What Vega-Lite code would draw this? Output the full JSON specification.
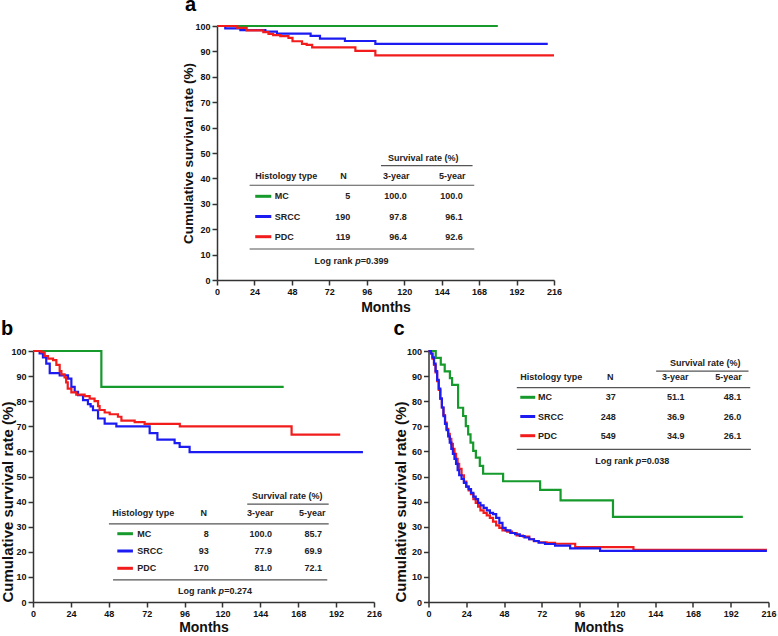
{
"$schema": "https://vega.github.io/schema/vega-lite/v6.json",
"padding": {"top": -6, "left": 0, "right": 0, "bottom": 0},
"background": "white",
"config": {
  "view": {"stroke": null},
  "font": "Liberation Sans",
  "axis": {"grid": false, "labelOverlap": false, "labelBound": false, "labelFlush": false, "tickCount": 30, "domainColor": "#333", "domainWidth": 1.5, "tickColor": "#333", "tickWidth": 1.5, "tickSize": 5, "labelFont": "Liberation Sans", "labelFontSize": 9, "labelFontWeight": "bold", "labelColor": "#111", "labelPadding": 2, "titleFont": "Liberation Sans", "titleFontWeight": "bold", "titleColor": "#111"},
  "title": {"font": "Liberation Sans", "fontSize": 20, "fontWeight": "bold", "anchor": "start", "frame": "bounds", "color": "#000", "offset": 4},
  "text": {"font": "Liberation Sans", "fontSize": 9, "fontWeight": "bold", "color": "#222", "baseline": "middle"},
  "rule": {"color": "#555", "strokeWidth": 1.2},
  "line": {"interpolate": "step-after", "strokeWidth": 2.2}
},
"datasets": {
  "curves": [
    {"p":"a","g":"MC","m":0,"s":100},{"p":"a","g":"MC","m":180,"s":100},
    {"p":"a","g":"SRCC","m":0,"s":100},{"p":"a","g":"SRCC","m":5.3,"s":99.1},{"p":"a","g":"SRCC","m":15,"s":98.4},{"p":"a","g":"SRCC","m":31,"s":97.8},{"p":"a","g":"SRCC","m":38.4,"s":97.0},{"p":"a","g":"SRCC","m":60,"s":96.1},{"p":"a","g":"SRCC","m":66,"s":95.0},{"p":"a","g":"SRCC","m":82,"s":94.1},{"p":"a","g":"SRCC","m":101.5,"s":93.0},{"p":"a","g":"SRCC","m":212,"s":93.0},
    {"p":"a","g":"PDC","m":0,"s":100},{"p":"a","g":"PDC","m":13,"s":99.3},{"p":"a","g":"PDC","m":19,"s":98.3},{"p":"a","g":"PDC","m":29.7,"s":97.6},{"p":"a","g":"PDC","m":33,"s":96.9},{"p":"a","g":"PDC","m":36,"s":96.4},{"p":"a","g":"PDC","m":40.6,"s":96.0},{"p":"a","g":"PDC","m":45.8,"s":95.3},{"p":"a","g":"PDC","m":48.4,"s":94.0},{"p":"a","g":"PDC","m":54.5,"s":93.0},{"p":"a","g":"PDC","m":57.5,"s":92.6},{"p":"a","g":"PDC","m":61,"s":91.6},{"p":"a","g":"PDC","m":88.7,"s":90.2},{"p":"a","g":"PDC","m":101.5,"s":88.4},{"p":"a","g":"PDC","m":216,"s":88.4},
    {"p":"b","g":"MC","m":0,"s":100},{"p":"b","g":"MC","m":43.3,"s":85.7},{"p":"b","g":"MC","m":158.8,"s":85.7},
    {"p":"b","g":"SRCC","m":0,"s":100},{"p":"b","g":"SRCC","m":4.2,"s":99},{"p":"b","g":"SRCC","m":6.3,"s":97.5},{"p":"b","g":"SRCC","m":8.4,"s":95},{"p":"b","g":"SRCC","m":10.6,"s":91.2},{"p":"b","g":"SRCC","m":16.9,"s":90.3},{"p":"b","g":"SRCC","m":22.2,"s":89.0},{"p":"b","g":"SRCC","m":24.3,"s":85.7},{"p":"b","g":"SRCC","m":26.4,"s":83.7},{"p":"b","g":"SRCC","m":28.5,"s":82.4},{"p":"b","g":"SRCC","m":31.7,"s":80.4},{"p":"b","g":"SRCC","m":34.8,"s":78.8},{"p":"b","g":"SRCC","m":36.5,"s":77.9},{"p":"b","g":"SRCC","m":38,"s":76.4},{"p":"b","g":"SRCC","m":41.2,"s":73.1},{"p":"b","g":"SRCC","m":45.4,"s":71.1},{"p":"b","g":"SRCC","m":52.8,"s":70.0},{"p":"b","g":"SRCC","m":73.9,"s":67.3},{"p":"b","g":"SRCC","m":78.8,"s":64.7},{"p":"b","g":"SRCC","m":89.7,"s":63.3},{"p":"b","g":"SRCC","m":92.9,"s":61.8},{"p":"b","g":"SRCC","m":99.2,"s":59.7},{"p":"b","g":"SRCC","m":209,"s":59.7},
    {"p":"b","g":"PDC","m":0,"s":100},{"p":"b","g":"PDC","m":5.3,"s":99.5},{"p":"b","g":"PDC","m":7.4,"s":98},{"p":"b","g":"PDC","m":9.5,"s":97},{"p":"b","g":"PDC","m":12.7,"s":96.4},{"p":"b","g":"PDC","m":14.8,"s":94.5},{"p":"b","g":"PDC","m":16.9,"s":92},{"p":"b","g":"PDC","m":18,"s":90.7},{"p":"b","g":"PDC","m":20,"s":89.5},{"p":"b","g":"PDC","m":21,"s":87.5},{"p":"b","g":"PDC","m":22,"s":85},{"p":"b","g":"PDC","m":24.3,"s":83.5},{"p":"b","g":"PDC","m":27.4,"s":82.6},{"p":"b","g":"PDC","m":32.7,"s":82.0},{"p":"b","g":"PDC","m":35.9,"s":81.0},{"p":"b","g":"PDC","m":39,"s":80},{"p":"b","g":"PDC","m":41.2,"s":78},{"p":"b","g":"PDC","m":42.2,"s":76.5},{"p":"b","g":"PDC","m":45.4,"s":75.5},{"p":"b","g":"PDC","m":48.6,"s":74.8},{"p":"b","g":"PDC","m":53.8,"s":73.8},{"p":"b","g":"PDC","m":56,"s":72.3},{"p":"b","g":"PDC","m":64.4,"s":71.7},{"p":"b","g":"PDC","m":70.7,"s":71.0},{"p":"b","g":"PDC","m":93,"s":70.0},{"p":"b","g":"PDC","m":163.8,"s":66.7},{"p":"b","g":"PDC","m":194.6,"s":66.7},
    {"p":"c","g":"MC","m":0,"s":100},{"p":"c","g":"MC","m":4.6,"s":97.3},{"p":"c","g":"MC","m":7.8,"s":94.6},{"p":"c","g":"MC","m":10.3,"s":91.9},{"p":"c","g":"MC","m":13.6,"s":89.2},{"p":"c","g":"MC","m":15,"s":86.5},{"p":"c","g":"MC","m":18.8,"s":77.4},{"p":"c","g":"MC","m":22.0,"s":74.1},{"p":"c","g":"MC","m":23.7,"s":70.1},{"p":"c","g":"MC","m":25.2,"s":66.8},{"p":"c","g":"MC","m":26.7,"s":63.5},{"p":"c","g":"MC","m":28.4,"s":60.2},{"p":"c","g":"MC","m":30.1,"s":57.5},{"p":"c","g":"MC","m":32.6,"s":54.2},{"p":"c","g":"MC","m":34.7,"s":51.1},{"p":"c","g":"MC","m":47.4,"s":48.1},{"p":"c","g":"MC","m":70.9,"s":44.7},{"p":"c","g":"MC","m":83.9,"s":40.5},{"p":"c","g":"MC","m":117.2,"s":33.9},{"p":"c","g":"MC","m":199.7,"s":33.9},
    {"p":"c","g":"PDC","m":0,"s":100},{"p":"c","g":"PDC","m":1.5,"s":99},{"p":"c","g":"PDC","m":2.5,"s":97},{"p":"c","g":"PDC","m":3.5,"s":94.5},{"p":"c","g":"PDC","m":4.5,"s":91.5},{"p":"c","g":"PDC","m":5.5,"s":88},{"p":"c","g":"PDC","m":6.5,"s":84.5},{"p":"c","g":"PDC","m":7.5,"s":81},{"p":"c","g":"PDC","m":8.5,"s":77.5},{"p":"c","g":"PDC","m":9.5,"s":74.5},{"p":"c","g":"PDC","m":10.5,"s":71.5},{"p":"c","g":"PDC","m":11.5,"s":69},{"p":"c","g":"PDC","m":12.5,"s":67},{"p":"c","g":"PDC","m":13.5,"s":65},{"p":"c","g":"PDC","m":14.5,"s":63},{"p":"c","g":"PDC","m":15.5,"s":61},{"p":"c","g":"PDC","m":16.5,"s":59},{"p":"c","g":"PDC","m":17.5,"s":57},{"p":"c","g":"PDC","m":18.5,"s":55},{"p":"c","g":"PDC","m":19.5,"s":53},{"p":"c","g":"PDC","m":21,"s":50.5},{"p":"c","g":"PDC","m":22.5,"s":48},{"p":"c","g":"PDC","m":24,"s":46},{"p":"c","g":"PDC","m":25.5,"s":44.5},{"p":"c","g":"PDC","m":27,"s":43},{"p":"c","g":"PDC","m":28.5,"s":41},{"p":"c","g":"PDC","m":30,"s":39.5},{"p":"c","g":"PDC","m":31.5,"s":38},{"p":"c","g":"PDC","m":33,"s":36.5},{"p":"c","g":"PDC","m":35,"s":35.5},{"p":"c","g":"PDC","m":37,"s":34.5},{"p":"c","g":"PDC","m":39,"s":33.5},{"p":"c","g":"PDC","m":41,"s":32},{"p":"c","g":"PDC","m":43,"s":30.5},{"p":"c","g":"PDC","m":45,"s":29.5},{"p":"c","g":"PDC","m":47,"s":28.5},{"p":"c","g":"PDC","m":50,"s":28},{"p":"c","g":"PDC","m":53,"s":27.5},{"p":"c","g":"PDC","m":56,"s":26.5},{"p":"c","g":"PDC","m":60,"s":26.1},{"p":"c","g":"PDC","m":64,"s":25},{"p":"c","g":"PDC","m":67,"s":24.2},{"p":"c","g":"PDC","m":70,"s":23.8},{"p":"c","g":"PDC","m":75,"s":23.6},{"p":"c","g":"PDC","m":80.4,"s":23.2},{"p":"c","g":"PDC","m":93.2,"s":21.9},{"p":"c","g":"PDC","m":130.2,"s":20.8},{"p":"c","g":"PDC","m":215,"s":20.8},
    {"p":"c","g":"SRCC","m":0,"s":100},{"p":"c","g":"SRCC","m":1.5,"s":99},{"p":"c","g":"SRCC","m":2.5,"s":97.5},{"p":"c","g":"SRCC","m":3.5,"s":95},{"p":"c","g":"SRCC","m":4.5,"s":92},{"p":"c","g":"SRCC","m":5.5,"s":88.5},{"p":"c","g":"SRCC","m":6.5,"s":85},{"p":"c","g":"SRCC","m":7.5,"s":81},{"p":"c","g":"SRCC","m":8.5,"s":77.5},{"p":"c","g":"SRCC","m":9.5,"s":74},{"p":"c","g":"SRCC","m":10.5,"s":71},{"p":"c","g":"SRCC","m":11.5,"s":68.5},{"p":"c","g":"SRCC","m":12.5,"s":66},{"p":"c","g":"SRCC","m":13.5,"s":63.5},{"p":"c","g":"SRCC","m":14.5,"s":61},{"p":"c","g":"SRCC","m":15.5,"s":59},{"p":"c","g":"SRCC","m":16.5,"s":57},{"p":"c","g":"SRCC","m":17.5,"s":55},{"p":"c","g":"SRCC","m":18.5,"s":52.5},{"p":"c","g":"SRCC","m":19.5,"s":50.5},{"p":"c","g":"SRCC","m":21,"s":49},{"p":"c","g":"SRCC","m":22.5,"s":47.5},{"p":"c","g":"SRCC","m":24,"s":46},{"p":"c","g":"SRCC","m":25.5,"s":45},{"p":"c","g":"SRCC","m":27,"s":43.5},{"p":"c","g":"SRCC","m":28.5,"s":42},{"p":"c","g":"SRCC","m":30,"s":41},{"p":"c","g":"SRCC","m":31.5,"s":39.5},{"p":"c","g":"SRCC","m":33,"s":38.5},{"p":"c","g":"SRCC","m":35,"s":37.5},{"p":"c","g":"SRCC","m":37,"s":36.5},{"p":"c","g":"SRCC","m":39,"s":35.5},{"p":"c","g":"SRCC","m":41,"s":35},{"p":"c","g":"SRCC","m":43,"s":33.5},{"p":"c","g":"SRCC","m":45,"s":31.5},{"p":"c","g":"SRCC","m":47,"s":29.5},{"p":"c","g":"SRCC","m":49,"s":28.5},{"p":"c","g":"SRCC","m":52,"s":27.5},{"p":"c","g":"SRCC","m":55,"s":27},{"p":"c","g":"SRCC","m":58,"s":26.3},{"p":"c","g":"SRCC","m":61,"s":25.7},{"p":"c","g":"SRCC","m":64,"s":25},{"p":"c","g":"SRCC","m":67,"s":24.3},{"p":"c","g":"SRCC","m":70,"s":23.6},{"p":"c","g":"SRCC","m":74,"s":23.1},{"p":"c","g":"SRCC","m":80.4,"s":22.5},{"p":"c","g":"SRCC","m":90,"s":21.4},{"p":"c","g":"SRCC","m":109,"s":20.4},{"p":"c","g":"SRCC","m":215,"s":20.4}
  ],
  "tab": [
    {"p":"a","type":"MC","N":"5","y3":"100.0","y5":"100.0"},
    {"p":"a","type":"SRCC","N":"190","y3":"97.8","y5":"96.1"},
    {"p":"a","type":"PDC","N":"119","y3":"96.4","y5":"92.6"},
    {"p":"b","type":"MC","N":"8","y3":"100.0","y5":"85.7"},
    {"p":"b","type":"SRCC","N":"93","y3":"77.9","y5":"69.9"},
    {"p":"b","type":"PDC","N":"170","y3":"81.0","y5":"72.1"},
    {"p":"c","type":"MC","N":"37","y3":"51.1","y5":"48.1"},
    {"p":"c","type":"SRCC","N":"248","y3":"36.9","y5":"26.0"},
    {"p":"c","type":"PDC","N":"549","y3":"34.9","y5":"26.1"}
  ]
},
"vconcat": [
  {"hconcat": [
    {"width": 148, "height": 10, "data": {"values": []}, "mark": "point"},
    {"width": 337, "height": 254,
     "title": {"text": "a", "offset": 7, "dx": 3},
     "layer": [
       {"layer": [
         {"data": {"name": "curves"}, "transform": [{"filter": "datum.p === 'a'"}],
          "mark": "line",
          "encoding": {
            "x": {"field": "m", "type": "quantitative", "scale": {"domain": [0, 216], "nice": false}, "axis": {"values": [0,24,48,72,96,120,144,168,192,216], "tickCount": 30, "labelOverlap": false, "title": "Months", "titleFontSize": 14, "titlePadding": 4}},
            "y": {"field": "s", "type": "quantitative", "scale": {"domain": [0, 100], "nice": false}, "axis": {"values": [0,10,20,30,40,50,60,70,80,90,100], "tickCount": 30, "labelOverlap": false, "title": "Cumulative survival rate (%)", "titleFontSize": 13.5, "titlePadding": -1}},
            "color": {"field": "g", "type": "nominal", "scale": {"domain": ["MC","SRCC","PDC"], "range": ["#169a2c","#1c1cf2","#f21c1c"]}, "legend": null}
          }},
         {"data": {"values": [{}]}, "mark": {"type": "text", "text": "Survival rate (%)", "align": "center"}, "encoding": {"x": {"datum": 132.2}, "y": {"datum": 48.0}}},
         {"data": {"values": [{}]}, "mark": "rule", "encoding": {"x": {"datum": 105.1}, "x2": {"datum": 163.8}, "y": {"datum": 45.0}}},
         {"data": {"values": [{}]}, "mark": {"type": "text", "text": "Histology type", "align": "left"}, "encoding": {"x": {"datum": 24.5}, "y": {"datum": 41.1}}},
         {"data": {"values": [{}]}, "mark": {"type": "text", "text": "N", "align": "center"}, "encoding": {"x": {"datum": 81.1}, "y": {"datum": 41.1}}},
         {"data": {"values": [{}]}, "mark": {"type": "text", "text": "3-year", "align": "center"}, "encoding": {"x": {"datum": 114.9}, "y": {"datum": 41.1}}},
         {"data": {"values": [{}]}, "mark": {"type": "text", "text": "5-year", "align": "center"}, "encoding": {"x": {"datum": 150.8}, "y": {"datum": 41.1}}},
         {"data": {"values": [{}]}, "mark": "rule", "encoding": {"x": {"datum": 20.9}, "x2": {"datum": 164.9}, "y": {"datum": 37.3}}},
         {"data": {"values": [{}]}, "mark": "rule", "encoding": {"x": {"datum": 20.9}, "x2": {"datum": 164.9}, "y": {"datum": 12.2}}},
         {"data": {"values": [{}]}, "mark": {"type": "text", "text": "Log rank", "align": "right", "dx": -5.3}, "encoding": {"x": {"datum": 90.3}, "y": {"datum": 7.4}}},
         {"data": {"values": [{}]}, "mark": {"type": "text", "text": "p", "align": "center", "fontStyle": "italic"}, "encoding": {"x": {"datum": 90.3}, "y": {"datum": 7.4}}},
         {"data": {"values": [{}]}, "mark": {"type": "text", "text": "=0.399", "align": "left", "dx": 2.9}, "encoding": {"x": {"datum": 90.3}, "y": {"datum": 7.4}}}
       ]},
       {"data": {"name": "tab"}, "transform": [{"filter": "datum.p === 'a'"}],
        "encoding": {"y": {"field": "type", "type": "nominal", "scale": {"type": "point", "domain": ["MC","SRCC","PDC"], "range": [170.3, 210.7], "padding": 0}, "axis": null}},
        "layer": [
          {"mark": {"type": "rule", "strokeWidth": 3}, "encoding": {"x": {"datum": 24.5}, "x2": {"datum": 34.8}, "color": {"field": "type", "type": "nominal", "legend": null}}},
          {"mark": {"type": "text", "align": "left"}, "encoding": {"x": {"datum": 37.0}, "text": {"field": "type"}}},
          {"mark": {"type": "text", "align": "right"}, "encoding": {"x": {"datum": 85.4}, "text": {"field": "N"}}},
          {"mark": {"type": "text", "align": "right"}, "encoding": {"x": {"datum": 121.7}, "text": {"field": "y3"}}},
          {"mark": {"type": "text", "align": "right"}, "encoding": {"x": {"datum": 157.5}, "text": {"field": "y5"}}}
        ]}
     ],
     "resolve": {"scale": {"y": "independent"}}}
  ], "spacing": 0},
  {"hconcat": [
    {"width": 341, "height": 251,
     "title": {"text": "b", "offset": 8},
     "layer": [
       {"layer": [
         {"data": {"name": "curves"}, "transform": [{"filter": "datum.p === 'b'"}],
          "mark": "line",
          "encoding": {
            "x": {"field": "m", "type": "quantitative", "scale": {"domain": [0, 216], "nice": false}, "axis": {"values": [0,24,48,72,96,120,144,168,192,216], "tickCount": 30, "labelOverlap": false, "title": "Months", "titleFontSize": 14, "titlePadding": 2}},
            "y": {"field": "s", "type": "quantitative", "scale": {"domain": [0, 100], "nice": false}, "axis": {"values": [0,10,20,30,40,50,60,70,80,90,100], "tickCount": 30, "labelOverlap": false, "title": "Cumulative survival rate (%)", "titleFontSize": 15, "titlePadding": -5, "titleAnchor": "start"}},
            "color": {"field": "g", "type": "nominal", "scale": {"domain": ["MC","SRCC","PDC"], "range": ["#169a2c","#1c1cf2","#f21c1c"]}, "legend": null}
          }},
         {"data": {"values": [{}]}, "mark": {"type": "text", "text": "Survival rate (%)", "align": "center"}, "encoding": {"x": {"datum": 161.1}, "y": {"datum": 42.4}}},
         {"data": {"values": [{}]}, "mark": "rule", "encoding": {"x": {"datum": 135.7}, "x2": {"datum": 187.3}, "y": {"datum": 39.0}}},
         {"data": {"values": [{}]}, "mark": {"type": "text", "text": "Histology type", "align": "left"}, "encoding": {"x": {"datum": 50.2}, "y": {"datum": 35.5}}},
         {"data": {"values": [{}]}, "mark": {"type": "text", "text": "N", "align": "center"}, "encoding": {"x": {"datum": 108.1}, "y": {"datum": 35.5}}},
         {"data": {"values": [{}]}, "mark": {"type": "text", "text": "3-year", "align": "center"}, "encoding": {"x": {"datum": 144.0}, "y": {"datum": 35.5}}},
         {"data": {"values": [{}]}, "mark": {"type": "text", "text": "5-year", "align": "center"}, "encoding": {"x": {"datum": 176.9}, "y": {"datum": 35.5}}},
         {"data": {"values": [{}]}, "mark": "rule", "encoding": {"x": {"datum": 48.1}, "x2": {"datum": 187.3}, "y": {"datum": 31.1}}},
         {"data": {"values": [{}]}, "mark": "rule", "encoding": {"x": {"datum": 50.7}, "x2": {"datum": 186.4}, "y": {"datum": 8.8}}},
         {"data": {"values": [{}]}, "mark": {"type": "text", "text": "Log rank", "align": "right", "dx": -5.3}, "encoding": {"x": {"datum": 119.3}, "y": {"datum": 4.4}}},
         {"data": {"values": [{}]}, "mark": {"type": "text", "text": "p", "align": "center", "fontStyle": "italic"}, "encoding": {"x": {"datum": 119.3}, "y": {"datum": 4.4}}},
         {"data": {"values": [{}]}, "mark": {"type": "text", "text": "=0.274", "align": "left", "dx": 2.9}, "encoding": {"x": {"datum": 119.3}, "y": {"datum": 4.4}}}
       ]},
       {"data": {"name": "tab"}, "transform": [{"filter": "datum.p === 'b'"}],
        "encoding": {"y": {"field": "type", "type": "nominal", "scale": {"type": "point", "domain": ["MC","SRCC","PDC"], "range": [182.7, 217.3], "padding": 0}, "axis": null}},
        "layer": [
          {"mark": {"type": "rule", "strokeWidth": 3}, "encoding": {"x": {"datum": 53.4}, "x2": {"datum": 63.3}, "color": {"field": "type", "type": "nominal", "legend": null}}},
          {"mark": {"type": "text", "align": "left"}, "encoding": {"x": {"datum": 66.1}, "text": {"field": "type"}}},
          {"mark": {"type": "text", "align": "right"}, "encoding": {"x": {"datum": 111.3}, "text": {"field": "N"}}},
          {"mark": {"type": "text", "align": "right"}, "encoding": {"x": {"datum": 151.4}, "text": {"field": "y3"}}},
          {"mark": {"type": "text", "align": "right"}, "encoding": {"x": {"datum": 183.1}, "text": {"field": "y5"}}}
        ]}
     ],
     "resolve": {"scale": {"y": "independent"}}},
    {"width": 340, "height": 251,
     "title": {"text": "c", "offset": 8},
     "layer": [
       {"layer": [
         {"data": {"name": "curves"}, "transform": [{"filter": "datum.p === 'c'"}],
          "mark": "line",
          "encoding": {
            "x": {"field": "m", "type": "quantitative", "scale": {"domain": [0, 216], "nice": false}, "axis": {"values": [0,24,48,72,96,120,144,168,192,216], "tickCount": 30, "labelOverlap": false, "title": "Months", "titleFontSize": 14, "titlePadding": 2}},
            "y": {"field": "s", "type": "quantitative", "scale": {"domain": [0, 100], "nice": false}, "axis": {"values": [0,10,20,30,40,50,60,70,80,90,100], "tickCount": 30, "labelOverlap": false, "title": "Cumulative survival rate (%)", "titleFontSize": 15, "titlePadding": -2, "titleAnchor": "start"}},
            "color": {"field": "g", "type": "nominal", "scale": {"domain": ["MC","SRCC","PDC"], "range": ["#169a2c","#1c1cf2","#f21c1c"]}, "legend": null}
          }},
         {"data": {"values": [{}]}, "mark": {"type": "text", "text": "Survival rate (%)", "align": "center"}, "encoding": {"x": {"datum": 175.8}, "y": {"datum": 95.1}}},
         {"data": {"values": [{}]}, "mark": "rule", "encoding": {"x": {"datum": 144.6}, "x2": {"datum": 203.3}, "y": {"datum": 92.0}}},
         {"data": {"values": [{}]}, "mark": {"type": "text", "text": "Histology type", "align": "left"}, "encoding": {"x": {"datum": 58.3}, "y": {"datum": 89.6}}},
         {"data": {"values": [{}]}, "mark": {"type": "text", "text": "N", "align": "center"}, "encoding": {"x": {"datum": 115.4}, "y": {"datum": 89.6}}},
         {"data": {"values": [{}]}, "mark": {"type": "text", "text": "3-year", "align": "center"}, "encoding": {"x": {"datum": 156.7}, "y": {"datum": 89.6}}},
         {"data": {"values": [{}]}, "mark": {"type": "text", "text": "5-year", "align": "center"}, "encoding": {"x": {"datum": 190.6}, "y": {"datum": 89.6}}},
         {"data": {"values": [{}]}, "mark": "rule", "encoding": {"x": {"datum": 56.1}, "x2": {"datum": 204.4}, "y": {"datum": 85.4}}},
         {"data": {"values": [{}]}, "mark": "rule", "encoding": {"x": {"datum": 56.1}, "x2": {"datum": 204.8}, "y": {"datum": 60.8}}},
         {"data": {"values": [{}]}, "mark": {"type": "text", "text": "Log rank", "align": "right", "dx": -5.3}, "encoding": {"x": {"datum": 133.4}, "y": {"datum": 56.1}}},
         {"data": {"values": [{}]}, "mark": {"type": "text", "text": "p", "align": "center", "fontStyle": "italic"}, "encoding": {"x": {"datum": 133.4}, "y": {"datum": 56.1}}},
         {"data": {"values": [{}]}, "mark": {"type": "text", "text": "=0.038", "align": "left", "dx": 2.9}, "encoding": {"x": {"datum": 133.4}, "y": {"datum": 56.1}}}
       ]},
       {"data": {"name": "tab"}, "transform": [{"filter": "datum.p === 'c'"}],
        "encoding": {"y": {"field": "type", "type": "nominal", "scale": {"type": "point", "domain": ["MC","SRCC","PDC"], "range": [46.3, 84.7], "padding": 0}, "axis": null}},
        "layer": [
          {"mark": {"type": "rule", "strokeWidth": 3}, "encoding": {"x": {"datum": 58.3}, "x2": {"datum": 67.8}, "color": {"field": "type", "type": "nominal", "legend": null}}},
          {"mark": {"type": "text", "align": "left"}, "encoding": {"x": {"datum": 69.5}, "text": {"field": "type"}}},
          {"mark": {"type": "text", "align": "right"}, "encoding": {"x": {"datum": 119.0}, "text": {"field": "N"}}},
          {"mark": {"type": "text", "align": "right"}, "encoding": {"x": {"datum": 162.6}, "text": {"field": "y3"}}},
          {"mark": {"type": "text", "align": "right"}, "encoding": {"x": {"datum": 198.7}, "text": {"field": "y5"}}}
        ]}
     ],
     "resolve": {"scale": {"y": "independent"}}}
  ], "spacing": 10.5}
],
"spacing": 4
}
